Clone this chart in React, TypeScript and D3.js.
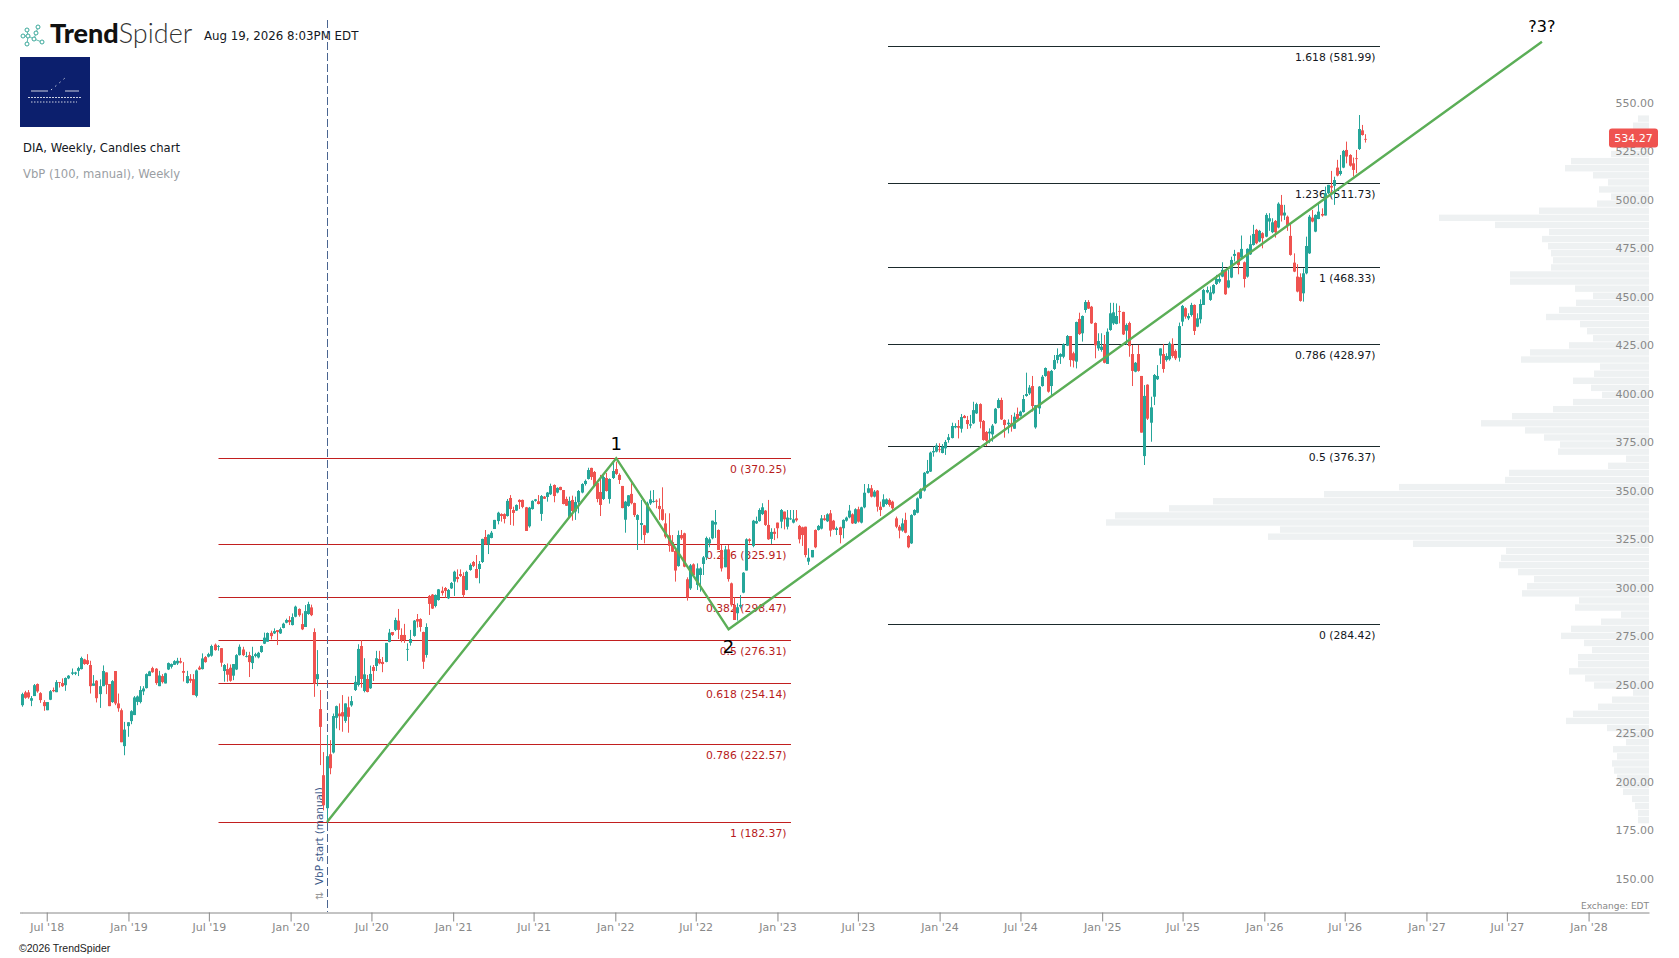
import React, {useEffect, useRef} from 'react'
import * as d3 from 'd3'

const chartWidth = 1679
const chartHeight = 958
const uiFont = '"DejaVu Sans", sans-serif'
const upColor = '#26a69a'
const downColor = '#ef5350'

// weekly candles, [open, high, low, close]
const candles2018 = [
  [239.6,246,238.8,245.3],[246.2,247,242.9,243.4],[246.2,247.4,242.9,243.6],[241.9,244.3,239.1,243.2],[244.3,250.5,244.3,249.9],[250.5,250.8,246,246.7],[245.8,246.3,240.8,242.2],[241.2,242.2,236.7,239.1],[237,241.2,237,241.2],[242.4,247.4,242.2,246.8],
  [247.4,248.7,246.3,246.8],[246.3,252.5,246.3,251.5],[251.5,251.5,248.7,251.1],[251,253.4,249,249.4],[249.9,253.9,247,253.6],[253.4,255.1,253,254.8],[255.8,258.5,255.1,256.5],[255.8,256.8,255.1,256.5],[257.3,259.4,254.6,258.7],[258.2,264.6,258,263.9],
  [263.2,263.5,260.4,260.8],[262.8,265.9,260.3,260.8],[260.3,262.5,245.6,249.4],[249.6,255.1,249.6,250.8],[252.2,252.5,241,243.2],[245.3,252.9,238.2,249.4],[249.4,260.1,249.4,257.2],[256.5,256.5,245.3,250.1],[250.5,250.5,239.1,239.1],[241.2,252.5,240.8,252],
  [257.2,257.2,239.6,240.5],[240.5,245.6,236.2,238],[237,237.9,220.5,220.5],
]
const candles2019 = [
  [218.5,231,213.8,227],[228.8,230.8,223.3,230.8],[231.4,237,229.8,236.5],[234.5,244.3,234.5,243.6],[241.3,244.6,239.6,244.1],[241.2,249.4,240.5,247.4],[246.7,249.4,244.8,248.2],[248.4,256,248.2,255.6],[254.6,257.3,254.6,257],[258.7,259.4,256.3,256.6],
  [258.4,258.7,250.1,251],[249.4,257.3,249.4,254.9],[254.6,255.6,250.8,251.5],[250.8,256.3,250.8,256],[258,261.6,257.7,261.3],[259.4,261.1,258.5,260.8],[260.4,262.8,260.3,262.3],[261.1,264,260.3,262.5],[262.3,264,261.1,261.5],[257.2,261.8,251.8,256.3],
  [251,257.3,250.8,254.6],[253.2,255.6,251.1,252.2],[253,255.6,244.8,244.8],[244.4,258,243.6,257.5],[259,259.9,257.7,258],[258.2,266.3,258,263.7],[264.4,264.9,261.5,261.8],[264.6,266.6,264.2,265.9],[265.1,270.8,264.6,270.1],[270.8,271.4,267.7,268],
  [269.7,270.6,267.7,270.1],[269,269,259.4,261.5],[257.2,260.8,251.7,260.3],[258.2,261.1,251.7,255.3],[258.9,260.6,251.7,252.2],[254.8,260.8,252.5,260.8],[258,265.9,257.7,265.4],[265.4,270.9,265.2,269.7],[268.3,269.7,264.9,265.4],[264.6,267.1,264.2,264.9],
  [265.4,267.1,254.1,261.8],[261.3,269.7,258.2,264.9],[264.9,266.6,264.2,265.9],[264.2,267.1,263.7,266.6],[267,270.4,266.6,270.1],[271.3,277,271.1,274.4],[272.3,277.1,272.3,276.8],[276.9,278,273.5,275.2],[276.6,279.2,276.3,277.8],[278.3,278.3,270.6,277.3],
  [276.6,279.7,276.3,278.8],[279.4,282.1,279.2,281.6],
]
const candles2020 = [
  [282.1,284.2,281.8,283.5],[283.5,285.5,280.9,282.4],[280.9,286.9,280.7,285],[285.2,290.9,284.9,290.4],[289.2,289.5,285.2,286],[281.4,286.9,278.3,278.7],[279.9,291.2,279.9,288.1],[286.6,292.9,286.2,291.7],[290,291.4,285.5,286],[277.3,279.2,243.9,250.8],
  [253,268,249.4,255.6],[237.6,247.4,208.7,228.4],[203.5,215.4,185.4,188],[186.5,224.1,178.9,213.3],[214.3,221.6,204,207.1],[215.2,235.3,214.7,234],[233.1,239.4,227.6,239.1],[235.3,240.5,226.7,233.9],[236,244.8,225.9,233.8],[231.5,240.5,230.5,240.5],
  [238.5,244,225.4,233.6],[239.5,244.3,238.8,241.7],[247.4,254.7,246.9,251.6],[250,271,249.2,268.6],[270.1,273,248.6,253.1],[246.9,263.8,246.2,255.5],[253.1,255.2,246.2,246.4],[248.3,260,248,255.7],[259.3,260.3,252.1,257.2],[259.8,267.6,257.2,263.8],
  [263.4,267.6,260.7,261.2],[261.9,264.4,256.6,260.8],[261.9,271.7,261.7,271.7],[272.2,278.9,272,277],[277.3,277.3,275.3,275.8],[278.4,284.7,277.8,283.5],[283.2,289.2,273.7,278.4],[275.8,279.2,272,273.2],[275.8,281.5,271.7,273.2],[268.2,271.5,262.4,268.6],
  [271.7,278.4,270.3,273.7],[275.3,283.5,274.9,283.2],[284,286.6,279.6,282.7],[284,284.4,277.5,279.9],[277.3,277.5,258.3,262],[265.5,281.8,264.1,279.9],[295.9,296.4,286.1,291.8],[296.6,296.9,289.2,289.4],[290.7,296.7,290,296.4],[293.8,299.5,293.5,299.3],
  [298.6,300.7,296.1,297.4],[300,300.5,295,298.5],
]
const candles2021 = [
  [294.7,299.5,294.3,299],[299.8,303.1,299.5,302.6],[303.3,308.9,295.9,308.4],[305.7,309.6,302.9,304.6],[307.2,309.6,305.7,306.2],[306.2,308.1,295,296.4],[299,308.9,298.8,308.3],[309.3,312.7,308.9,311.9],[313.4,313.9,310.8,311.4],[309.8,317,305,305.2],
  [309.8,313.9,302.4,312.4],[313.4,325.4,312.9,325.3],[326.3,329.9,322.2,322.5],[322.5,327.7,317.5,327.5],[325.8,329.4,325.6,328.5],[330.4,335.1,330.4,335.1],[334.5,339.3,332.8,338.8],[338.1,338.5,334.2,337.1],[338.1,338.5,333.3,335.6],[337.1,345.9,336.8,344.9],
  [346.4,347.9,332.5,340.7],[340.2,341.9,332.1,338.7],[339.9,343.1,339.7,342.8],[345.4,345.7,340.7,344.3],[345.4,345.6,341.1,341.8],[341.6,341.8,329.4,329.4],[331.8,341.8,331.1,341.4],[340.7,345.2,340.4,344.9],[344.9,345.9,344.5,345.7],[344.7,347.9,343.1,343.3],
  [338.2,347.9,334.6,347.4],[347.1,347.4,345.9,346],[346.9,349.5,344.5,349.2],[348.3,353.8,347.9,352.6],[353.1,353.4,344.2,347.4],[349.2,351.9,348.8,351.6],[352.1,352.2,350.4,350.5],[350.5,350.5,343.1,343.3],[345.9,347.1,342.3,342.4],[336.6,347.1,336.3,344.9],
  [345.4,347.6,334.7,339.7],[339.4,347.1,335.1,344.3],[344.2,350.5,338.5,350],[349.2,354,348.8,353.6],[353.6,355.9,352.8,355.2],[356.2,362,355.9,360.8],[361.9,362,355.7,357.2],[359.8,360.3,352.2,352.6],[354.1,354.1,344.2,345.9],[349.5,358.3,337.1,342.8],
  [345.9,357.9,345.4,357.2],[356.7,359.3,349.7,350],
]
const candles2022 = [
  [345.9,356.5,343.5,356.2],[356.7,364.8,356.2,360.3],[361.3,365.1,358.3,358.8],[358.3,359.1,353.6,355.7],[352.6,352.6,341.1,341.2],[335.2,344.9,328.5,344.5],[342.3,347.9,341.9,347.8],[348.5,354,343.1,343.7],[343.8,344,336.6,337.6],[335.1,338,319.6,337.6],
  [332.5,345.4,324.8,333.5],[332.3,332.5,323,327.3],[328.5,344.5,328.2,343.6],[343.6,350.2,342.8,345.7],[344.3,350.5,344,344.8],[345,345.7,341.1,344.5],[342.3,346.2,335.1,340.7],[340.6,351.9,334.7,335.1],[333.3,338.5,325.6,326.5],[327.2,338.5,318.7,321.7],
  [323.7,327.3,318.6,318.7],[319.1,319.6,303.3,309],[311.3,329.6,311,327.3],[327.3,329.9,324.8,325.6],[328.2,328.5,310.7,311],[304.5,305.5,293.5,295.2],[299.8,312.4,299,311.7],[312.2,312.7,306.2,306.7],[301.6,312.7,299,310.1],[306.7,310.7,298.1,310.1],
  [312.4,316.5,306.7,315.8],[315.8,326.5,314.4,325.8],[323,326.1,321,325.1],[325.6,334.7,325.1,334.7],[332.7,340.2,325.8,334],[329.9,330.2,319.6,319.6],[319.6,322.2,308.5,310.1],[310.7,321.7,310.7,319.9],[319.9,322.2,303.3,304.6],[302.4,302.8,290.4,291.4],
  [291.3,295.2,283.5,283.5],[287,292.1,283.2,290.1],[290.4,296.4,289.5,291.3],[297.6,308.2,297.3,307.9],[309,325.6,309,325.1],[325.1,325.6,323,324.2],[321.7,335.1,321,334.7],[333.3,336.8,333,334.5],[334.5,341.1,334.2,340.2],[338.1,343.7,337.6,341.6],
  [339.9,340.2,332,332.5],[332.5,345.4,324.8,325.1],
]
const candles2023 = [
  [325.3,330.8,322.7,328.9],[329,330.8,324.7,327.9],[333.7,333.7,325.6,330.8],[334.2,340.7,330.8,340.2],[339.4,339.4,330.2,335.4],[331.6,340.2,330.2,336.3],[335.4,340.2,335.1,335.9],[333.7,340.2,333.3,335.4],[335.9,340.2,334.2,334.9],[332,332.5,323,325.1],
  [331.3,331.6,321.7,327.3],[331.6,331.6,315.8,317],[313.6,320.5,311.9,315.6],[315.8,319.6,315.8,319.6],[329.9,330.2,320.5,321],[329.9,332.5,329.6,332],[330.6,337.6,330.2,335.9],[335.9,337.6,334.7,335],[334.4,338.5,334,338],[338.5,340.2,326.5,329.6],
  [334.7,335.1,329.9,330.2],[329.9,331.6,327.3,330.8],[331.3,331.6,323,327.3],[330.8,335.4,325.6,335.1],[334.7,336.8,334.2,336.3],[336.4,342.8,335.9,339.9],[338,338.5,333,333.3],[333.3,341.1,333,340.6],[340.6,341.9,333.7,334.2],[333.7,341.9,333.3,341.6],
  [341.6,353.6,341.1,349.1],[349.1,353.6,348.8,351.4],[351.4,353.1,346.7,347.1],[347.1,350.5,346.7,349.7],[350.2,350.5,339.4,341.9],[341.9,344.5,337.1,340.2],[341.9,348.3,341.6,345.7],[343.3,346.2,342.8,345.7],[345.4,346.2,341.9,342.8],[344.5,345,340.2,341.1],
  [335.9,336.8,330.8,331.6],[331.6,332.5,325.6,329.6],[329.6,335.9,329,333.3],[335.1,338.8,328.2,328.5],[326.8,327.3,320.5,321],[323,338,322.7,337.6],[337.6,340.6,337.3,340.2],[338.8,346.7,338.5,346.2],[346.2,351.4,345.9,350.9],[350.2,359.8,349.7,359.4],
  [359.1,366,358.8,360.3],[360,370.3,359.8,369.8],
]
const candles2024 = [
  [369.9,372.9,367.7,370.6],[370.3,374.6,369.9,373.5],[371.5,374.6,369.9,371.1],[369.6,374.2,369.4,372.9],[372,376.3,368.6,375.3],[376.3,379.4,374.9,377.7],[377.3,385.2,377.1,383.5],[382.8,384.9,382.3,383.5],[383.5,386.6,377.1,382.6],[382.1,389.7,380.1,388.1],
  [388.7,389.2,387.5,387.6],[386.6,388.7,382,384.5],[383.7,389.2,382.3,384.4],[384.9,396,384.5,391.7],[390,395.5,389.7,394.8],[394.8,395.2,382.3,385.7],[386.1,386.6,375.9,376.3],[380.4,380.9,373.2,375.9],[379.7,382.3,374.6,380.6],[379.2,384.5,375.4,383.7],
  [384.9,392.8,384.5,392.4],[392.8,397.8,392.6,396.9],[396.9,398.1,386.6,386.9],[386.6,386.9,377.5,384],[384.4,386.9,379.7,385.2],[384.9,389.2,380.6,383.2],[382.1,390.4,382,388.3],[389.7,393,386.3,387],[388.7,391.4,388.3,390.9],[390.7,399.5,390.4,397.4],
  [399,411,398.6,400],[400.3,404.6,399.5,403.3],[404.1,409.3,390.9,393.8],[382.8,394.3,382.1,394.2],[392.6,404.1,389.7,403.8],[404.1,409.8,403.8,408.9],[409.3,413.7,408.9,413.4],[411.7,412,400.7,401.2],[404.1,412.4,399.5,411.9],[412.9,420.1,412.4,417.5],
  [417.5,423.5,415.8,420.1],[419.2,421,415.5,420.6],[419.2,426.1,418.4,425.6],[424.9,430.4,424.7,429.9],[429.9,429.9,414.1,417.5],[421,421.8,413.7,417.2],[416.7,437.3,413.2,437.1],[438.7,441.9,430.4,430.9],[431.3,440.5,427,440.2],[443.3,448.4,441.9,447.4],
  [447.4,448.4,443.8,444],[445,445.4,436.1,436.4],
]
const candles2025 = [
  [436.6,436.9,418.4,425.1],[423.5,431.3,422.3,427.3],[422.7,431.3,421.8,424.4],[425.6,430.4,415.8,416.1],[415.5,433.8,415.5,432.1],[433,447,432.6,441.6],[436.4,447,435.6,442.1],[436.1,446.7,435.9,440.2],[442.8,445.5,436.4,442.4],[442.3,442.4,430.4,430.7],
  [432.6,436.4,425.3,435.6],[436.6,437.3,419.2,424.7],[420.6,425.3,404.1,411.9],[411.5,416.5,411.2,416.1],[420.6,425.3,411.5,411.9],[409.3,409.3,380.1,380.1],[368,404.6,363.4,399],[404.8,405,386.6,387.3],[385.2,398.6,375.4,393.1],[398.6,410.3,394.3,409.8],
  [407.6,414.9,407.2,409.3],[419.8,423.5,415.5,423.5],[420.6,425.8,411,412.9],[417.5,421,416.7,419.6],[417.9,427,417.2,426.1],[425.8,428.7,418.7,419.6],[422.2,423,417.5,418.4],[418.7,436.8,416.7,435],[437.3,445.9,435,445.4],[444.2,444.7,438.8,439.9],
  [439,441.6,438.1,440.2],[440.7,447,439.9,445.9],[445.9,446.2,430.4,432.5],[434.7,441.6,434.4,439],[438.5,448.8,436.4,446.4],[445.9,454.2,445.9,453.6],[452.4,455.4,451.9,453.6],[448.5,455.4,448,452.4],[451.9,456.6,451.4,456.2],[456.7,461.4,456.2,459.3],
  [457.9,461.4,457.1,459.3],[460.5,467.9,460.2,464],[464,464,451.1,451.4],[454.9,464,454.5,458.6],[460,470.8,459.7,469.1],[471.2,474.3,468.3,472.2],[473,473,461.7,466.5],[470.3,481.7,470,474.8],[467.9,468.3,454.9,459.3],[460.5,475.1,460,474.8],
  [472,481.7,471.7,477.2],[476.8,487.2,476.5,482.5],
]
const candles2026 = [
  [484.6,485.1,477.2,477.7],[478.6,484.6,478.2,484.1],[482.9,483.4,475.1,480.3],[481.1,493.2,480.8,492.3],[488.9,493.2,484.1,490.6],[483.4,490.6,482.9,488.5],[489.2,489.7,480.6,483.4],[485.8,498.8,485.4,498.1],[497.5,502.6,488.9,492],[492,497.5,489.7,493.5],
  [491.4,492,484.1,486.8],[481.5,487.5,471.3,471.7],[467.7,472.5,462.8,463.1],[460.5,466.9,452.4,452.8],[460.2,462.2,447.6,448],[451.9,464.8,447.6,462.2],[462.2,481.1,461.7,476.3],[472.5,492.3,472.2,491.4],[490.9,494.9,488.5,488.9],[483.7,492.6,483.4,492.3],
  [490.2,498.3,490.1,494],[492.8,495.7,491.4,492],[492,506.9,492,503.5],[503.5,507.8,503,507.8],[507.3,515,502.6,506.4],[507.3,512,497.5,510.3],[516.7,520.7,512.2,512.6],[513.4,523.2,512.6,515],[516.7,525.8,516.4,525.3],[525.8,530.1,518.9,522.4],
  [523.2,523.6,517.2,517.7],[518.9,521.9,512.1,515.5],[521.5,525.8,513.8,521.3],[526.3,543.8,525.8,536.6],[535.9,538.7,533.2,533.5],[531.5,533.9,529.6,531.1],
]

// volume by price, top row first
const vbpVolumes = [
  11,16,20,25,30,38,78,84,56,41,50,38,52,110,210,154,100,107,101,98,96,98,139,139,74,56,73,90,103,69,62,56,
  80,119,128,49,55,76,58,47,76,96,137,168,124,105,89,91,23,41,140,144,250,325,436,480,534,543,369,381,236,143,148,150,131,115,122,127,70,74,28,48,78,88,
  65,57,71,71,80,64,55,16,37,51,76,83,42,30,23,36,32,37,35,32,29,26,17,14,11,11,
]

const priceTicks = [550,525,500,475,450,425,400,375,350,325,300,275,250,225,200,175,150]
const dateTicks = ['2018-07-01','2019-01-01','2019-07-01','2020-01-01','2020-07-01','2021-01-01','2021-07-01','2022-01-01','2022-07-01','2023-01-01','2023-07-01','2024-01-01','2024-07-01','2025-01-01','2025-07-01','2026-01-01','2026-07-01','2027-01-01','2027-07-01','2028-01-01']

const redFibPrices = [367,322.7,295.4,273.2,251,219.6,179.4]
const redFibLabels = ['0 (370.25)','0.236 (325.91)','0.382 (298.47)','0.5 (276.31)','0.618 (254.14)','0.786 (222.57)','1 (182.37)']
const blackFibPrices = [579.4,508.8,465.5,425.8,373.2,281.4]
const blackFibLabels = ['1.618 (581.99)','1.236 (511.73)','1 (468.33)','0.786 (428.97)','0.5 (376.37)','0 (284.42)']

const waveDates = ['2020-03-23','2022-01-03','2022-09-13','2027-09-18']
const wavePrices = [179.4,366.9,278.7,581.6]

const firstWeek = '2018-05-07'
const axisEnd = '2028-05-16'
const vbpStart = '2020-03-23'
const vbpPriceTop = 543.6
const vbpPriceBottom = 178.7
const lastPriceShown = 531.9

const logoNodes = [[23,36],[27,30],[38,27],[28,36],[34,39],[42,42],[27,44],[36,33]]
const logoLinks = [[1,3],[3,6],[3,4],[4,7],[7,2],[4,5],[0,3]]

function App() {
  const ref = useRef<SVGSVGElement | null>(null)

  useEffect(() => {
    const svg = d3.select(ref.current)
    svg.selectAll('*').remove()

    const parse = d3.utcParse('%Y-%m-%d')
    const start = parse(firstWeek) as Date
    const candles = [...candles2018, ...candles2019, ...candles2020, ...candles2021, ...candles2022, ...candles2023, ...candles2024, ...candles2025, ...candles2026]
      .map((c, i) => ({date: d3.utcDay.offset(start, i * 7), open: c[0], high: c[1], low: c[2], close: c[3]}))

    const x = d3.scaleUtc().domain([start, parse(axisEnd) as Date]).range([22.3, 1649])
    const y = d3.scaleLinear().domain([550, 150]).range([103, 879])
    const crisp = (v: number) => Math.round(v) + 0.5

    // logo
    const logo = svg.append('g')
    logo.selectAll('line').data(logoLinks).join('line')
      .attr('x1', d => logoNodes[d[0]][0]).attr('y1', d => logoNodes[d[0]][1])
      .attr('x2', d => logoNodes[d[1]][0]).attr('y2', d => logoNodes[d[1]][1])
      .attr('stroke', '#3aa89a').attr('stroke-width', 0.8)
    logo.selectAll('circle').data(logoNodes).join('circle')
      .attr('cx', d => d[0]).attr('cy', d => d[1]).attr('r', 2)
      .attr('fill', '#fff').attr('stroke', '#3aa89a').attr('stroke-width', 1)
    const brand = svg.append('text').attr('x', 50).attr('y', 43).attr('font-family', 'Lato, sans-serif').attr('font-size', 27).attr('fill', '#111')
    brand.append('tspan').attr('font-weight', 900).text('Trend')
    brand.append('tspan').attr('font-weight', 300).attr('fill', '#333').text('Spider')

    svg.append('text').attr('x', 204).attr('y', 40).attr('font-family', uiFont).attr('font-size', 11.8).attr('fill', '#131722').text('Aug 19, 2026 8:03PM EDT')

    // blue avatar square
    svg.append('rect').attr('x', 20).attr('y', 57).attr('width', 70).attr('height', 70).attr('fill', '#0c1f6d')
    const avatar = svg.append('g').attr('stroke', '#fff').attr('stroke-width', 0.8)
    avatar.append('line').attr('x1', 31).attr('x2', 48).attr('y1', 91).attr('y2', 91)
    avatar.append('line').attr('x1', 65).attr('x2', 79).attr('y1', 91).attr('y2', 91)
    avatar.append('line').attr('x1', 51).attr('x2', 65).attr('y1', 90).attr('y2', 78).attr('stroke-dasharray', '1.5 4')
    avatar.append('line').attr('x1', 28).attr('x2', 82).attr('y1', 97.5).attr('y2', 97.5).attr('stroke-dasharray', '2 1')
    avatar.append('line').attr('x1', 31).attr('x2', 77).attr('y1', 102).attr('y2', 102).attr('stroke-dasharray', '1.5 1.5')

    svg.append('text').attr('x', 23).attr('y', 152).attr('font-family', uiFont).attr('font-size', 11.6).attr('fill', '#131722').text('DIA, Weekly, Candles chart')
    svg.append('text').attr('x', 23).attr('y', 178).attr('font-family', uiFont).attr('font-size', 11.6).attr('fill', '#9a9ea3').text('VbP (100, manual), Weekly')

    // volume by price
    const rows = d3.scaleBand<number>().domain(d3.range(vbpVolumes.length)).range([y(vbpPriceTop), y(vbpPriceBottom)]).paddingInner(0.1)
    const vol = d3.scaleLinear().domain([0, d3.max(vbpVolumes) as number]).range([0, 543])
    svg.append('g').selectAll('rect').data(vbpVolumes).join('rect')
      .attr('x', d => 1649 - vol(d)).attr('width', d => vol(d))
      .attr('y', (d, i) => rows(i) as number).attr('height', rows.bandwidth())
      .attr('fill', '#eef1f2')

    // fib retracement / extension levels
    const drawFib = (prices: number[], labels: string[], x1: number, x2: number, lineColor: string, textColor: string) => {
      const g = svg.append('g')
      g.selectAll('line').data(prices).join('line')
        .attr('x1', x1).attr('x2', x2).attr('y1', d => crisp(y(d))).attr('y2', d => crisp(y(d)))
        .attr('stroke', lineColor).attr('stroke-width', 1)
      g.selectAll('text').data(labels).join('text')
        .attr('x', x2 - 4.5).attr('y', (d, i) => y(prices[i]) + 15)
        .attr('text-anchor', 'end').attr('font-family', uiFont).attr('font-size', 10.8)
        .attr('fill', textColor).text(d => d)
    }
    drawFib(redFibPrices, redFibLabels, 218.5, 791, '#c21f1f', '#b71c1c')
    drawFib(blackFibPrices, blackFibLabels, 888, 1380, '#1b2a2c', '#131722')

    // VbP start marker
    const vx = crisp(x(parse(vbpStart) as Date))
    svg.append('line').attr('x1', vx).attr('x2', vx).attr('y1', 20).attr('y2', 912)
      .attr('stroke', '#4a6591').attr('stroke-width', 1).attr('stroke-dasharray', '8 3')
    svg.append('text').attr('transform', `translate(${vx - 5},885) rotate(-90)`)
      .attr('font-family', uiFont).attr('font-size', 10.4).attr('fill', '#3d5a8a').text('VbP start (manual)')
    svg.append('text').attr('transform', `translate(${vx - 5},900) rotate(-90)`)
      .attr('font-family', uiFont).attr('font-size', 10).attr('fill', '#999').text('⇅')

    // candles
    const candle = svg.append('g').selectAll('g').data(candles).join('g')
      .attr('fill', d => d.close >= d.open ? upColor : downColor)
      .attr('stroke', d => d.close >= d.open ? upColor : downColor)
    candle.append('line')
      .attr('x1', d => crisp(x(d.date) - 0.5)).attr('x2', d => crisp(x(d.date) - 0.5))
      .attr('y1', d => y(d.high)).attr('y2', d => y(d.low))
      .attr('stroke-width', 1)
    candle.append('rect')
      .attr('x', d => Math.round(x(d.date) - 0.5) - 1).attr('width', 3)
      .attr('y', d => y(Math.max(d.open, d.close)))
      .attr('height', d => Math.max(0.8, Math.abs(y(d.open) - y(d.close))))
      .attr('stroke', 'none')

    // wave lines
    const wave = d3.line<number>().x((d, i) => x(parse(waveDates[i]) as Date)).y(d => y(d))
    svg.append('path').datum(wavePrices).attr('d', wave).attr('fill', 'none')
      .attr('stroke', '#5bae57').attr('stroke-width', 2.4)
    const waveLabel = (text: string, i: number, dy: number, size: number) => svg.append('text')
      .attr('x', x(parse(waveDates[i]) as Date)).attr('y', y(wavePrices[i]) + dy)
      .attr('text-anchor', 'middle').attr('font-family', uiFont).attr('font-size', size).attr('fill', '#000').text(text)
    waveLabel('1', 1, -8, 18)
    waveLabel('2', 2, 24, 18)
    waveLabel('?3?', 3, -10, 16)

    // price axis
    const yAxis = svg.append('g').attr('font-family', uiFont).attr('font-size', 11).attr('fill', '#888')
    yAxis.selectAll('text').data(priceTicks).join('text')
      .attr('x', 1654).attr('y', d => y(d) + 3.7).attr('text-anchor', 'end').text(d => d3.format('.2f')(d))

    svg.append('rect').attr('x', 1609).attr('y', y(lastPriceShown) - 9.5).attr('width', 49).attr('height', 19).attr('rx', 3).attr('fill', '#ef5350')
    svg.append('text').attr('x', 1633.5).attr('y', y(lastPriceShown) + 4).attr('text-anchor', 'middle')
      .attr('font-family', uiFont).attr('font-size', 11).attr('font-weight', 500).attr('fill', '#fff').text('534.27')

    // time axis
    const xAxis = d3.axisBottom(x)
      .tickValues(dateTicks.map(d => parse(d) as Date))
      .tickFormat(d3.utcFormat("%b '%y") as any)
      .tickSize(9).tickSizeOuter(0).tickPadding(2)
    const gx = svg.append('g').attr('transform', 'translate(0,912.5)').call(xAxis as any)
    gx.attr('font-family', uiFont).attr('font-size', 11)
    gx.select('.domain').attr('stroke', '#888')
    gx.selectAll('.tick line').attr('stroke', '#888')
    gx.selectAll('.tick text').attr('fill', '#888')
    gx.append('line').attr('x1', 20).attr('x2', 23).attr('y1', 0.5).attr('y2', 0.5).attr('stroke', '#888')

    svg.append('text').attr('x', 1649).attr('y', 908.5).attr('text-anchor', 'end')
      .attr('font-family', uiFont).attr('font-size', 9).attr('fill', '#888').text('Exchange: EDT')
    svg.append('text').attr('x', 19).attr('y', 952)
      .attr('font-family', '"Liberation Sans", sans-serif').attr('font-size', 10.5).attr('fill', '#222').text('©2026 TrendSpider')
  }, [])

  return (
    <svg ref={ref} width={chartWidth} height={chartHeight}
      style={{position: 'absolute', left: 0, top: 0, background: '#fff'}} />
  )
}

export default App
